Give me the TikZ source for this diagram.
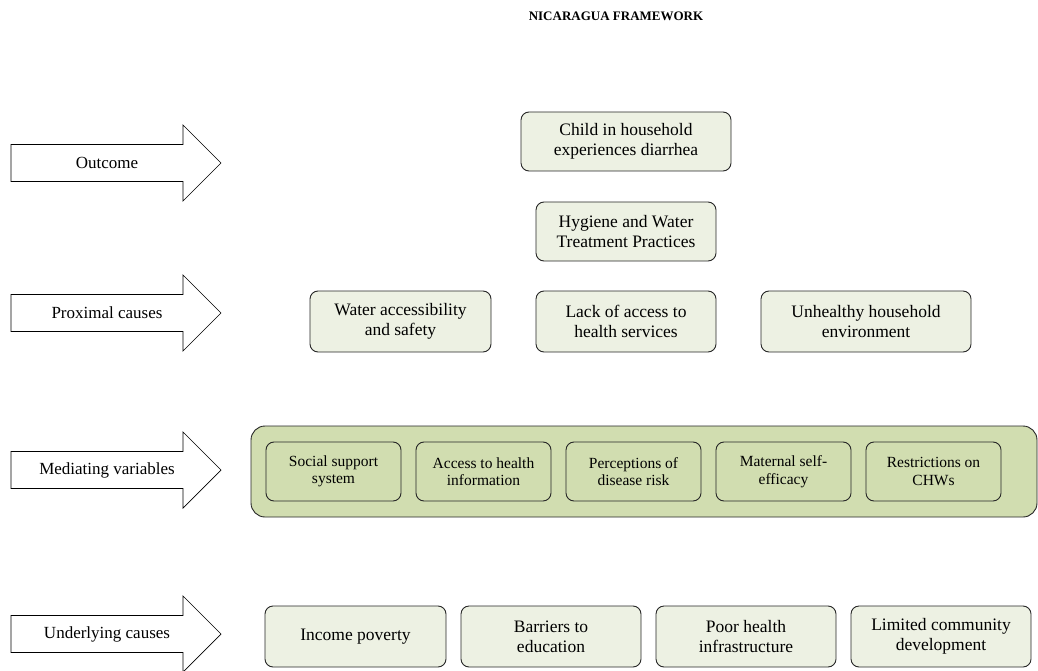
\documentclass[tikz,border=0pt]{standalone}
\usepackage{fontspec}
\setmainfont{Liberation Serif}
\definecolor{boxfill}{HTML}{EDF1E3}
\definecolor{medfill}{HTML}{D1DDB0}
\begin{document}
\begin{tikzpicture}[x=1pt,y=-1pt,
  box/.style={draw=black!85, line width=0.9pt, rounded corners=8pt, fill=boxfill, align=center, inner sep=0pt, font=\fontsize{17.5}{20}\selectfont},
  medbox/.style={draw=black!85, line width=0.9pt, rounded corners=8pt, fill=medfill, align=center, inner sep=0pt, minimum width=135pt, minimum height=59pt, font=\fontsize{15.5}{17.5}\selectfont},
  bigbox/.style={draw=black!85, line width=0.9pt, rounded corners=14pt, fill=medfill, inner sep=0pt},
  arrowshape/.style={draw=black, line width=0.7pt, fill=white},
  arrowlabel/.style={font=\fontsize{17}{19}\selectfont, inner sep=0pt}
]
\useasboundingbox (0,0) rectangle (1038,671);

\node[font=\bfseries\fontsize{13}{15}\selectfont] (title) at (616,16) {NICARAGUA FRAMEWORK};

% side arrows
\foreach \cy/\nm/\txt in {163/aout/Outcome, 313/aprox/Proximal causes, 470/amed/Mediating variables, 634/aund/Underlying causes}{
  \draw[arrowshape] (11,\cy-18.5) -- (183,\cy-18.5) -- (183,\cy-38) -- (221,\cy) -- (183,\cy+38) -- (183,\cy+18.5) -- (11,\cy+18.5) -- cycle;
  \node[arrowlabel] (\nm) at (107,\cy) {\txt};
}

% outcome
\node[box, minimum width=210pt, minimum height=59pt] (child) at (626,141.5) {Child in household\\experiences diarrhea};
\node[box, minimum width=180pt, minimum height=59pt] (hyg) at (626,231.5) {Hygiene and Water\\Treatment Practices};

% proximal
\node[box, minimum width=181pt, minimum height=61pt] (water) at (400.5,321.5) {Water accessibility\\and safety};
\node[box, minimum width=180pt, minimum height=61pt] (lack) at (626,321.5) {Lack of access to\\health services};
\node[box, minimum width=210pt, minimum height=61pt] (unh) at (866,321.5) {Unhealthy household\\environment};

% mediating
\node[bigbox, minimum width=786pt, minimum height=91pt] (med) at (644,471.5) {};
\node[medbox] (soc) at (333.5,471.5) {Social support\\system};
\node[medbox] (acc) at (483.5,471.5) {Access to health\\information};
\node[medbox] (per) at (633.5,471.5) {Perceptions of\\disease risk};
\node[medbox] (mat) at (783.5,471.5) {Maternal self-\\efficacy};
\node[medbox] (res) at (933.5,471.5) {Restrictions on\\CHWs};

% underlying
\node[box, minimum width=181pt, minimum height=61pt] (inc) at (355.5,636.5) {Income poverty};
\node[box, minimum width=180pt, minimum height=61pt] (bar) at (551,636.5) {Barriers to\\education};
\node[box, minimum width=180pt, minimum height=61pt] (poor) at (746,636.5) {Poor health\\infrastructure};
\node[box, minimum width=180pt, minimum height=61pt] (lim) at (941,636.5) {Limited community\\development};
\end{tikzpicture}
\end{document}
